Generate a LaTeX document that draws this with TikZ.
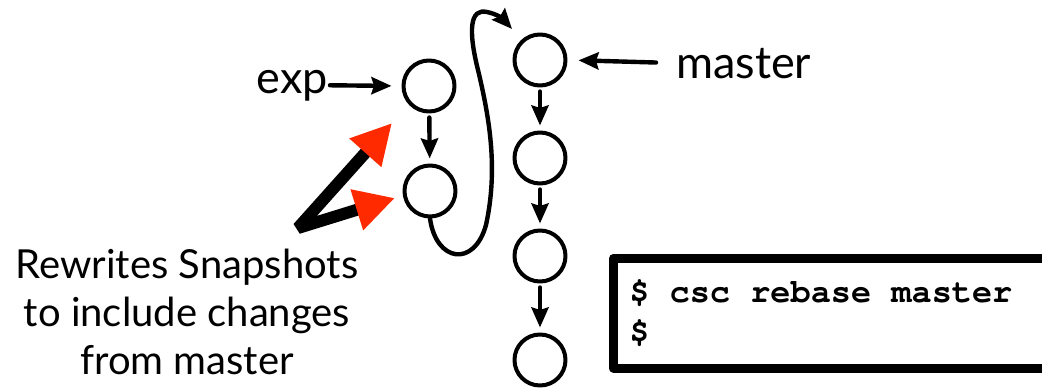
\documentclass[tikz,border=0pt]{standalone}
\usepackage[T1]{fontenc}
\usepackage{fontspec}
\setsansfont{Lato}
\usepackage{tikz}
\usetikzlibrary{arrows.meta}
\definecolor{rbInk}{HTML}{000000}
\definecolor{rbRed}{HTML}{FF2A00}
\tikzset{
  rb diagram/.style={font=\sffamily, text=rbInk,
    line cap=round, line join=round},
  rb commit/.style={circle, draw=rbInk, line width=4pt,
    minimum size=51pt, inner sep=0pt},
  rb arrow/.style={-{Stealth[length=20pt,width=17pt,inset=2.5pt]}, draw=rbInk, line width=4.4pt},
  rb label/.style={font=\sffamily\fontsize{40}{48}\selectfont, inner sep=0pt},
  rb branch/.style={rb label, font=\sffamily\fontsize{45}{48}\selectfont},
  rb pointer/.style={{Triangle[color=rbRed,length=40pt,width=40pt]}-{Triangle[color=rbRed,length=40pt,width=40pt]},
    draw=rbInk, line width=12pt, line join=bevel},
  rb term/.style={draw=rbInk, line width=8.5pt, inner xsep=16pt, align=left,
    text width=438pt, minimum height=110pt,
    font=\fontencoding{T1}\fontfamily{pcr}\fontseries{b}\fontsize{33.6}{40}\selectfont}
}
\begin{document}
\begin{tikzpicture}[rb diagram,x=1pt,y=-1pt]
\clip (0,0) rectangle (1042,388);
% commits on exp and on master
\node[rb commit] (e1) at (429,86) {};
\node[rb commit] (e2) at (430,191) {};
\node[rb commit] (m1) at (540,60) {};
\node[rb commit] (m2) at (540,158) {};
\node[rb commit] (m3) at (540,256) {};
\node[rb commit] (m4) at (540,360) {};
\draw[rb arrow,shorten <=4pt,shorten >=5pt] (e1) -- (e2);
\foreach \a/\b in {m1/m2,m2/m3,m3/m4}
  \draw[rb arrow,shorten <=4pt,shorten >=5pt] (\a) -- (\b);
% branch labels
\node[rb branch,anchor=base east] (exp) at (328,93) {exp};
\node[rb branch,anchor=base west] (master) at (676,78) {master};
\draw[rb arrow,shorten <=2pt,shorten >=10pt] (exp.east) -- (e1.west);
\draw[rb arrow,shorten <=20pt,shorten >=11pt] (master.west) -- (m1.east);
% exp moved on top of master
\coordinate (land) at (512,29);
\draw[rb arrow] (e2.south) .. controls (436,262) and (474,268) .. (486,225)
  .. controls (498,170) and (490,120) .. (478,70)
  .. controls (468,30) and (470,8) .. (487,12)
  .. controls (497,14) and (503,19) .. (land);
% note
\node[rb label,align=center] (note) at (187,312) {Rewrites Snapshots\\to include changes\\from master};
\coordinate (fork) at (298,228);
\coordinate (hitA) at (392,123);
\coordinate (hitB) at (395,198);
\draw[rb pointer] (hitA) -- (fork) -- (hitB);
% terminal
\node[rb term,anchor=north west] (term) at (609,254) {\spaceskip=20.2pt\relax\$ csc rebase master\\\$};
\end{tikzpicture}
\end{document}
